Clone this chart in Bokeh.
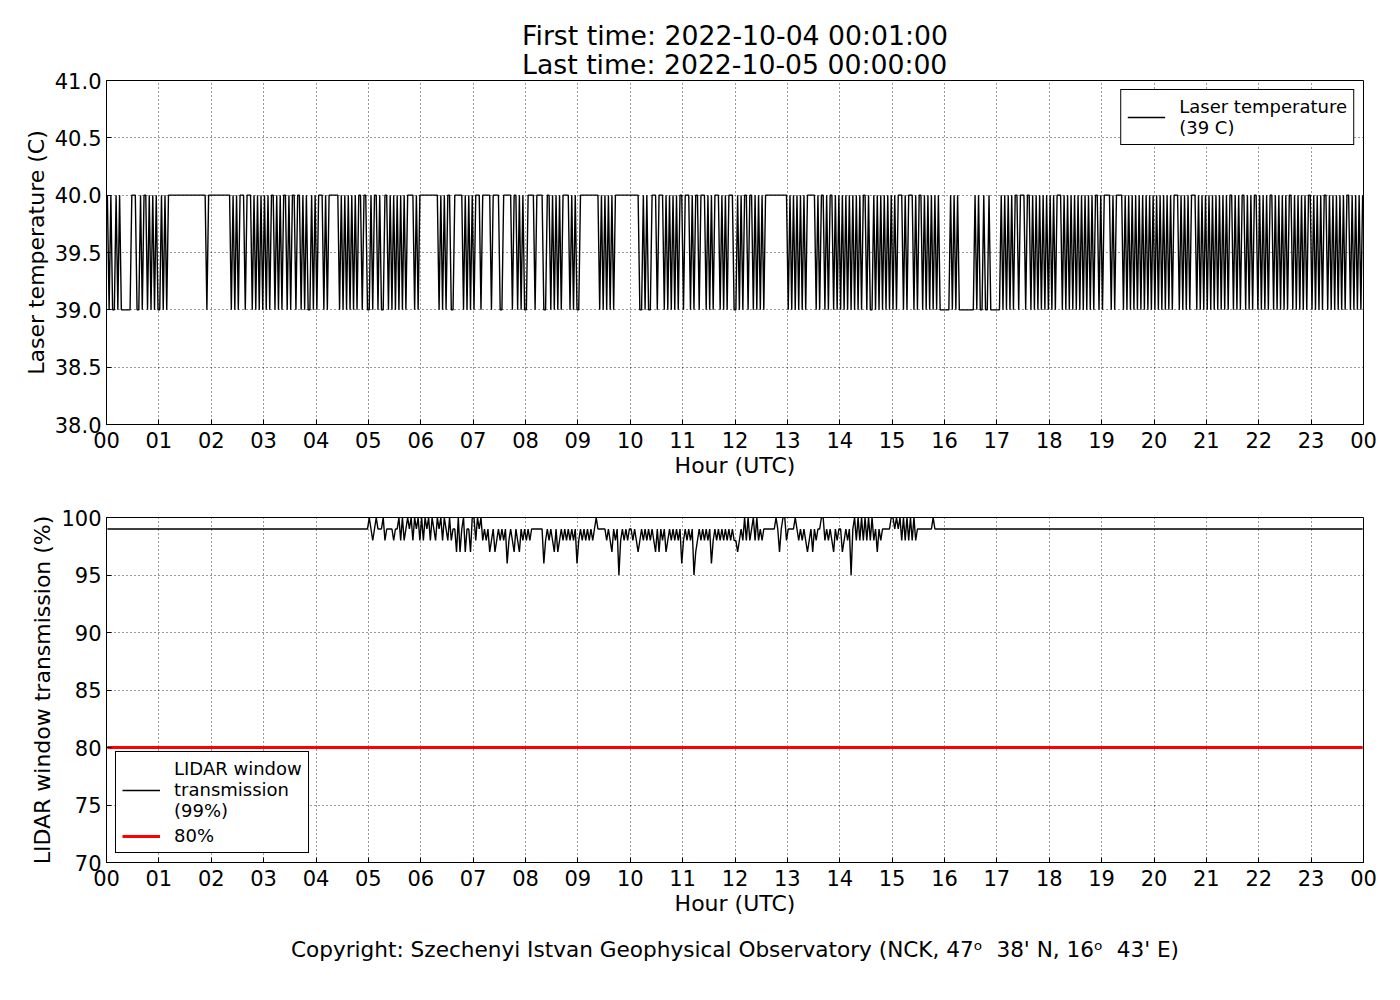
from bokeh.plotting import figure
from bokeh.models import (FixedTicker, Range1d, Title, Legend, LegendItem)
from bokeh.layouts import column
from bokeh.embed import file_html
from bokeh.resources import INLINE

# ---------------- data ----------------
hour_ticks = list(range(25))
hour_labels = ["00", "01", "02", "03", "04", "05", "06", "07", "08", "09", "10", "11",
               "12", "13", "14", "15", "16", "17", "18", "19", "20", "21", "22", "23", "00"]

temp_ticks = [38.0, 38.5, 39.0, 39.5, 40.0, 40.5, 41.0]
temp_tick_labels = ["38.0", "38.5", "39.0", "39.5", "40.0", "40.5", "41.0"]
trans_ticks = [70, 75, 80, 85, 90, 95, 100]
trans_tick_labels = ["70", "75", "80", "85", "90", "95", "100"]

# laser temperature, one string per hour, one character per 2-minute sample
temp_code = {"1": 40.0, "0": 39.0}
temp_hours = [
    "101001010000001110010110101010",  # 00
    "010101111111111111111111111011",  # 01
    "111111111110101011101110101010",  # 02
    "101011010101101011011010100101",  # 03
    "011101011111101010101010110110",  # 04
    "010110100110101010101011110101",  # 05
    "111111111101010110011111010101",  # 06
    "011101111101111001111101101010",  # 07
    "011110111100110101010111101010",  # 08
    "011111111111010101010111111111",  # 09
    "111110010100111011101010101011",  # 10
    "011101011011101010111010101110",  # 11
    "010101101101010101111111111111",  # 12
    "010101010101111101011010110101",  # 13
    "010101010101011010010101010101",  # 14
    "010111010111010110101010101000",  # 15
    "000101010000000001010010010000",  # 16
    "001010101011011101101010101010",  # 17
    "101011101010101010101010101101",  # 18
    "011110101111010101010101010101",  # 19
    "010101010101110101010111010101",  # 20
    "010101010101011010101101010110",  # 21
    "101010110101010101101010101011",  # 22
    "010101011010101010101101010101",  # 23
]

# LIDAR window transmission (%), one string per hour, one character per 2-minute sample
trans_code = {"0": 100, "9": 99, "8": 98, "7": 97, "6": 96, "5": 95}
trans_hours = [
    "999999999999999999999999999999",  # 00
    "999999999999999999999999999999",  # 01
    "999999999999999999999999999999",  # 02
    "999999999999999999999999999999",  # 03
    "999999999999999999999999999999",  # 04
    "098909990899998990808909080908",  # 05
    "080908098090809808997079079970",  # 06
    "080908989789789898968987987989",  # 07
    "898999999968989879789898989896",  # 08
    "898989898909999989879895898989",  # 09
    "989878989898987979897898989896",  # 10
    "898989578989898968989898989898",  # 11
    "878980808908089899999990979008",  # 12
    "999909898987897989900898987989",  # 13
    "978989590808080808089798999990",  # 14
    "090908080808089999999990999999",  # 15
    "999999999999999999999999999999",  # 16
    "999999999999999999999999999999",  # 17
    "999999999999999999999999999999",  # 18
    "999999999999999999999999999999",  # 19
    "999999999999999999999999999999",  # 20
    "999999999999999999999999999999",  # 21
    "999999999999999999999999999999",  # 22
    "999999999999999999999999999999",  # 23
]
threshold = 80

title_text = "First time: 2022-10-04 00:01:00\nLast time: 2022-10-05 00:00:00"
temp_legend = "Laser temperature\n(39 C)"
trans_legend = "LIDAR window\ntransmission\n(99%)"
thr_legend = "80%"
copyright_text = ("Copyright: Szechenyi Istvan Geophysical Observatory "
                  "(NCK, 47\u1d52\u00a0\u00a038' N, 16\u1d52\u00a0\u00a043' E)")


def expand(strings, code):
    t, v = [], []
    for h, s in enumerate(strings):
        step = 60.0 / len(s)
        for i, c in enumerate(s):
            t.append((h * 60 + 1 + i * step) / 60.0)
            v.append(code[c])
    return t, v


temp_t, temp_v = expand(temp_hours, temp_code)
trans_t, trans_v = expand(trans_hours, trans_code)

# ---------------- styling ----------------
FONT = "DejaVu Sans"
TICK_FS = "21px"
LABEL_FS = "22px"
LEG_FS = "18px"


def style(p, yticks, ylabels, ylabel):
    p.outline_line_color = "black"
    p.outline_line_width = 1
    xt = FixedTicker(ticks=hour_ticks)
    yt = FixedTicker(ticks=yticks)
    p.xaxis.ticker = xt
    p.yaxis.ticker = yt
    p.xaxis.major_label_overrides = {k: lab for k, lab in zip(hour_ticks, hour_labels)}
    p.yaxis.major_label_overrides = {k: lab for k, lab in zip(yticks, ylabels)}
    p.xgrid.ticker = xt
    p.ygrid.ticker = yt
    p.grid.grid_line_color = "black"
    p.grid.grid_line_dash = "1 3"
    p.grid.grid_line_width = 0.8
    p.grid.grid_line_alpha = 1.0
    for ax in (p.xaxis[0], p.yaxis[0]):
        ax.major_label_text_font = FONT
        ax.major_label_text_font_size = TICK_FS
        ax.major_label_text_color = "black"
        ax.axis_label_text_font = FONT
        ax.axis_label_text_font_size = LABEL_FS
        ax.axis_label_text_font_style = "normal"
        ax.axis_label_text_color = "black"
        ax.major_tick_in = 5
        ax.major_tick_out = 0
        ax.minor_tick_line_color = None
        ax.major_tick_line_color = "black"
        ax.axis_line_color = "black"
    p.xaxis.axis_label = "Hour (UTC)"
    p.xaxis.major_label_standoff = 7
    p.xaxis.axis_label_standoff = 2
    p.yaxis.axis_label = ylabel
    p.yaxis.major_label_standoff = 5
    p.yaxis.axis_label_standoff = 3


def legend(items, loc):
    lg = Legend(items=items, location=loc)
    lg.label_text_font = FONT
    lg.label_text_font_size = LEG_FS
    lg.label_text_color = "black"
    lg.border_line_color = "black"
    lg.border_line_width = 1
    lg.border_line_alpha = 1
    lg.background_fill_alpha = 1
    lg.glyph_width = 38
    lg.label_standoff = 14
    lg.padding = 6
    lg.spacing = 4
    lg.margin = 9
    lg.label_text_line_height = 1.15
    return lg


# ---------------- top panel ----------------
p1 = figure(width=1384, height=484, x_range=Range1d(0, 24), y_range=Range1d(38, 41),
            output_backend="svg", toolbar_location=None,
            min_border_left=106, min_border_right=21, min_border_top=80, min_border_bottom=60)
r_temp = p1.line(temp_t, temp_v, line_color="black", line_width=1.4)
style(p1, temp_ticks, temp_tick_labels, "Laser temperature (C)")
p1.add_layout(legend([LegendItem(label=temp_legend, renderers=[r_temp])], "top_right"))
p1.add_layout(Title(text=title_text, align="center", text_font=FONT, text_font_size="26.7px",
                    text_font_style="normal", text_color="black", standoff=1,
                    text_line_height=0.92), "above")

# ---------------- bottom panel ----------------
p2 = figure(width=1384, height=500, x_range=Range1d(0, 24), y_range=Range1d(70, 100),
            output_backend="svg", toolbar_location=None,
            min_border_left=106, min_border_right=21, min_border_top=33, min_border_bottom=122)
r_trans = p2.line(trans_t, trans_v, line_color="black", line_width=1.4)
r_thr = p2.line(trans_t, [threshold] * len(trans_t), line_color="red", line_width=2.8)
style(p2, trans_ticks, trans_tick_labels, "LIDAR window transmission (%)")
p2.add_layout(legend([LegendItem(label=trans_legend, renderers=[r_trans]),
                      LegendItem(label=thr_legend, renderers=[r_thr])], "bottom_left"))
p2.add_layout(Title(text=copyright_text, align="center", text_font=FONT, text_font_size="21.6px",
                    text_font_style="normal", text_color="black", standoff=32), "below")

layout = column(p1, p2, spacing=0)
open("out.html", "w").write(file_html(layout, INLINE))
